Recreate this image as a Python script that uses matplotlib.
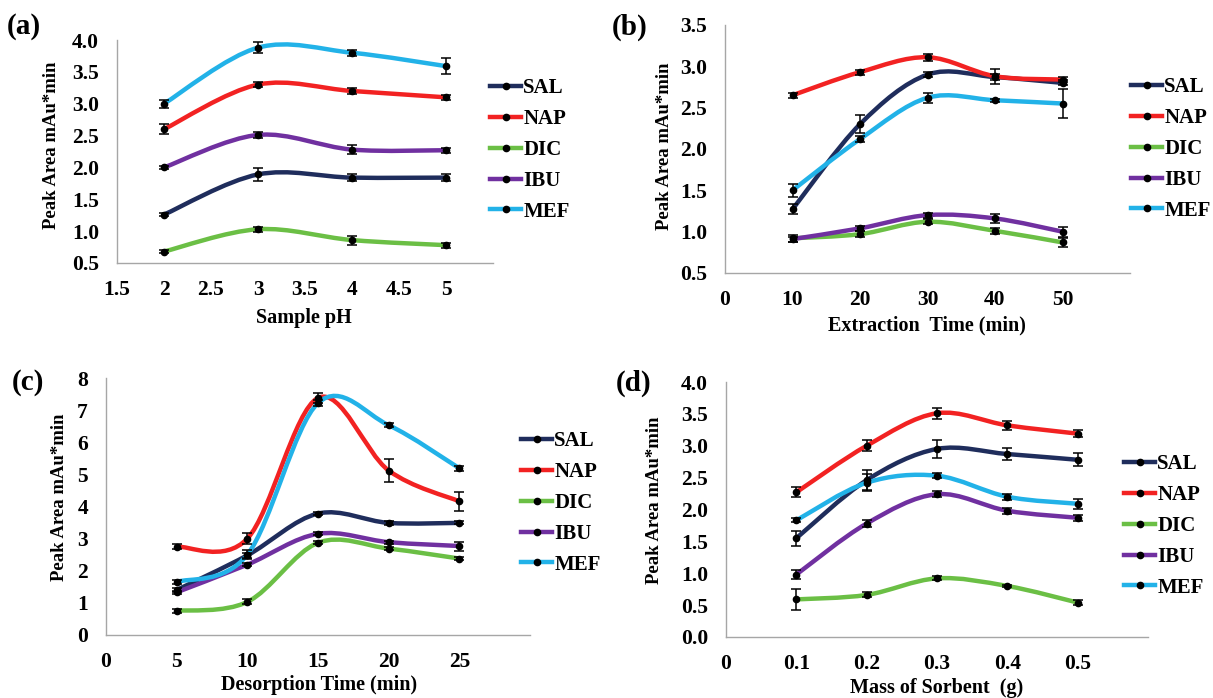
import numpy as np
import matplotlib
matplotlib.use("Agg")
import matplotlib.pyplot as plt
from matplotlib.path import Path
from matplotlib.patches import PathPatch
from matplotlib.lines import Line2D

plt.rcParams['font.family'] = ['Liberation Serif', 'DejaVu Serif']
plt.rcParams['font.weight'] = 'bold'

names = ['SAL', 'NAP', 'DIC', 'IBU', 'MEF']
colors = ['#1F2D5C', '#F22222', '#6BBF45', '#7030A0', '#22B2E8']

# (a) sample pH
ph = [2, 3, 4, 5]
ph_vals = {
    'SAL': [1.26, 1.89, 1.84, 1.84],
    'NAP': [2.60, 3.30, 3.20, 3.10],
    'DIC': [0.68, 1.03, 0.86, 0.78],
    'IBU': [2.00, 2.51, 2.28, 2.27],
    'MEF': [3.00, 3.88, 3.80, 3.59],
}
ph_err = {
    'SAL': [0.03, 0.10, 0.06, 0.06],
    'NAP': [0.08, 0.04, 0.05, 0.04],
    'DIC': [0.03, 0.04, 0.07, 0.04],
    'IBU': [0.03, 0.05, 0.07, 0.04],
    'MEF': [0.06, 0.09, 0.05, 0.13],
}

# (b) extraction time
ext_t = [10, 20, 30, 40, 50]
ext_vals = {
    'SAL': [1.27, 2.30, 2.90, 2.87, 2.80],
    'NAP': [2.65, 2.93, 3.11, 2.88, 2.84],
    'DIC': [0.92, 0.97, 1.12, 1.01, 0.87],
    'IBU': [0.91, 1.04, 1.20, 1.16, 1.00],
    'MEF': [1.50, 2.12, 2.62, 2.59, 2.55],
}
ext_err = {
    'SAL': [0.06, 0.11, 0.03, 0.04, 0.03],
    'NAP': [0.03, 0.03, 0.04, 0.09, 0.03],
    'DIC': [0.04, 0.04, 0.03, 0.04, 0.05],
    'IBU': [0.03, 0.03, 0.03, 0.05, 0.06],
    'MEF': [0.08, 0.04, 0.06, 0.02, 0.17],
}

# (c) desorption time
des_t = [5, 10, 15, 20, 25]
des_vals = {
    'SAL': [1.40, 2.48, 3.78, 3.49, 3.49],
    'NAP': [2.75, 3.00, 7.38, 5.12, 4.16],
    'DIC': [0.75, 1.03, 2.87, 2.69, 2.38],
    'IBU': [1.33, 2.19, 3.15, 2.89, 2.77],
    'MEF': [1.65, 2.50, 7.22, 6.53, 5.19],
}
des_err = {
    'SAL': [0.05, 0.08, 0.05, 0.07, 0.05],
    'NAP': [0.08, 0.17, 0.15, 0.35, 0.30],
    'DIC': [0.05, 0.08, 0.05, 0.05, 0.05],
    'IBU': [0.05, 0.05, 0.05, 0.05, 0.14],
    'MEF': [0.05, 0.14, 0.10, 0.07, 0.08],
}

# (d) mass of sorbent
mass = [0.1, 0.2, 0.3, 0.4, 0.5]
mass_vals = {
    'SAL': [1.55, 2.46, 2.95, 2.87, 2.78],
    'NAP': [2.27, 3.00, 3.51, 3.32, 3.19],
    'DIC': [0.59, 0.66, 0.92, 0.80, 0.54],
    'IBU': [0.98, 1.78, 2.24, 1.98, 1.87],
    'MEF': [1.83, 2.42, 2.53, 2.20, 2.09],
}
mass_err = {
    'SAL': [0.12, 0.16, 0.14, 0.09, 0.10],
    'NAP': [0.08, 0.09, 0.09, 0.07, 0.06],
    'DIC': [0.17, 0.04, 0.03, 0.02, 0.04],
    'IBU': [0.07, 0.05, 0.05, 0.05, 0.05],
    'MEF': [0.03, 0.13, 0.04, 0.05, 0.08],
}


def smooth_path(x, y):
    # Excel style smoothed line: Catmull-Rom segments as cubic Bezier
    p = np.column_stack([x, y]).astype(float)
    n = len(p)
    verts = [p[0]]
    codes = [Path.MOVETO]
    for i in range(n - 1):
        p0 = p[i - 1] if i > 0 else p[i]
        p3 = p[i + 2] if i + 2 < n else p[i + 1]
        c1 = p[i] + (p[i + 1] - p0) / 6.0
        c2 = p[i + 1] - (p3 - p[i]) / 6.0
        verts += [c1, c2, p[i + 1]]
        codes += [Path.CURVE4] * 3
    return Path(verts, codes)


W, H = 1213, 698
fig = plt.figure(figsize=(W / 100, H / 100), dpi=100)


def px_axes(l, t, r, b):
    return fig.add_axes([l / W, 1 - b / H, (r - l) / W, (b - t) / H])


panels = [
    dict(box=(117, 40, 493, 263), x=ph, vals=ph_vals, err=ph_err,
         xlim=(1.5, 5.5), xticks=[1.5, 2, 2.5, 3, 3.5, 4, 4.5, 5],
         xtl=['1.5', '2', '2.5', '3', '3.5', '4', '4.5', '5'],
         ylim=(0.5, 4.0), yticks=np.arange(0.5, 4.01, 0.5), yfmt='%.1f',
         xlabel='Sample pH', tag='(a)', tagpos=(24, 27),
         ylc=(-0.175, 0.53), xlc=(0.497, -0.245), leg=(490, 150)),
    dict(box=(725, 25, 1130, 273), x=ext_t, vals=ext_vals, err=ext_err,
         xlim=(0, 60), xticks=[0, 10, 20, 30, 40, 50],
         xtl=['0', '10', '20', '30', '40', '50'],
         ylim=(0.5, 3.5), yticks=np.arange(0.5, 3.51, 0.5), yfmt='%.1f',
         xlabel='Extraction  Time (min)', tag='(b)', tagpos=(630, 27),
         ylc=(-0.15, 0.51), xlc=(0.499, -0.21), leg=(1131, 149)),
    dict(box=(106, 378, 530, 635), x=des_t, vals=des_vals, err=des_err,
         xlim=(0, 30), xticks=[0, 5, 10, 15, 20, 25],
         xtl=['0', '5', '10', '15', '20', '25'],
         ylim=(0, 8), yticks=np.arange(0, 8.1, 1), yfmt='%d',
         xlabel='Desorption Time (min)', tag='(c)', tagpos=(28, 383),
         ylc=(-0.11, 0.535), xlc=(0.502, -0.195), leg=(521, 503)),
    dict(box=(726, 382, 1148, 637), x=mass, vals=mass_vals, err=mass_err,
         xlim=(0, 0.6), xticks=[0, 0.1, 0.2, 0.3, 0.4, 0.5],
         xtl=['0', '0.1', '0.2', '0.3', '0.4', '0.5'],
         ylim=(0, 4.0), yticks=np.arange(0, 4.01, 0.5), yfmt='%.1f',
         xlabel='Mass of Sorbent  (g)', tag='(d)', tagpos=(634, 383),
         ylc=(-0.17, 0.535), xlc=(0.5, -0.2), leg=(1124, 526)),
]

for pan in panels:
    ax = px_axes(*pan['box'])
    for name, c in zip(names, colors):
        ax.add_patch(PathPatch(smooth_path(pan['x'], pan['vals'][name]),
                               fill=False, edgecolor=c, lw=3.2, capstyle='round',
                               joinstyle='round', zorder=2))
    for name in names:
        ax.errorbar(pan['x'], pan['vals'][name], yerr=pan['err'][name],
                    fmt='o', color='black', ms=4.5, elinewidth=1.1,
                    capsize=3.5, capthick=1.1, zorder=3)
    ax.set_xlim(*pan['xlim'])
    ax.set_ylim(*pan['ylim'])
    ax.set_xticks(pan['xticks'])
    ax.set_xticklabels(pan['xtl'])
    ax.set_yticks(pan['yticks'])
    ax.set_yticklabels([pan['yfmt'] % v for v in pan['yticks']])
    ax.tick_params(length=0, labelsize=15.5)
    ax.tick_params(axis='x', pad=12)
    ax.tick_params(axis='y', pad=13)
    for s in ['top', 'right']:
        ax.spines[s].set_visible(False)
    for s in ['left', 'bottom']:
        ax.spines[s].set_color('#A6A6A6')
        ax.spines[s].set_linewidth(1.0)
    ax.set_ylabel('Peak Area mAu*min', fontsize=13.5, fontweight='bold', va='center')
    ax.yaxis.set_label_coords(*pan['ylc'])
    ax.set_xlabel(pan['xlabel'], fontsize=14.5, fontweight='bold', va='center')
    ax.xaxis.set_label_coords(*pan['xlc'])

    handles = [Line2D([], [], color=c, lw=3.2, marker='o', mfc='black',
                      mec='black', ms=4.5) for c in colors]
    lx, ly = pan['leg']
    ax.legend(handles, names, loc='center left', frameon=False,
              bbox_to_anchor=(lx / W, 1 - ly / H), bbox_transform=fig.transFigure,
              borderpad=0, borderaxespad=0, handlelength=1.5, handletextpad=0.1,
              labelspacing=0.52, prop={'family': 'Liberation Serif', 'weight': 'bold', 'size': 15})
    fig.text(pan['tagpos'][0] / W, 1 - pan['tagpos'][1] / H, pan['tag'],
             fontsize=21, fontweight='bold', ha='center', va='center')

fig.savefig('out.png', dpi=100)
